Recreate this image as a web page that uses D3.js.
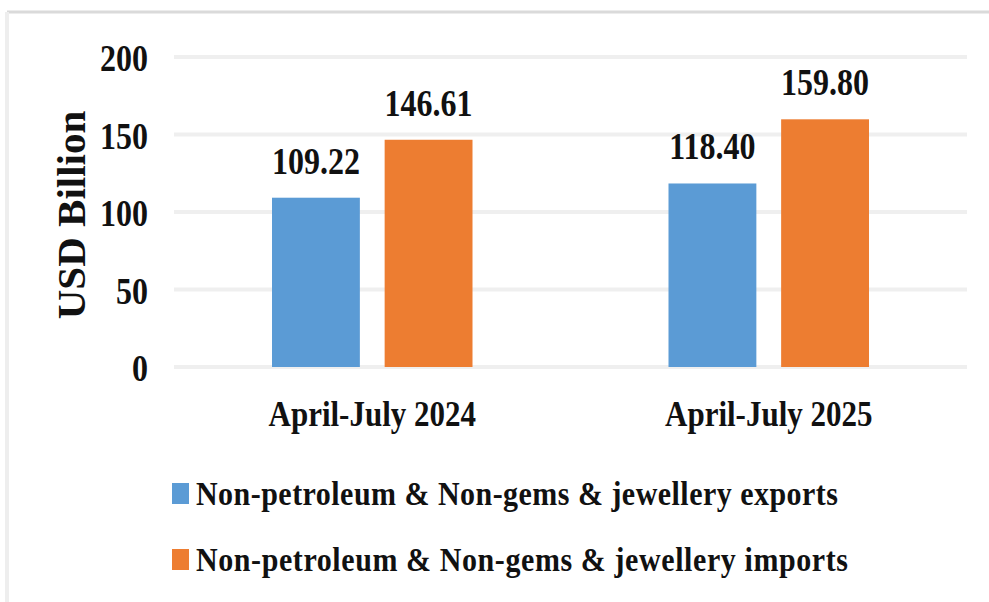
<!DOCTYPE html>
<html>
<head>
<meta charset="utf-8">
<script src="https://cdn.jsdelivr.net/npm/d3@7"></script>
<style>
  html, body { margin: 0; padding: 0; background: #fff; }
  svg { display: block; }
  text { font-family: "Liberation Serif", "Times New Roman", serif; font-weight: bold; fill: #111; }
</style>
</head>
<body>
<div id="chart"></div>
<script>
// ---------- data ----------
const periods = ["April-July 2024", "April-July 2025"];
const seriesNames = [
  "Non-petroleum & Non-gems & jewellery exports",
  "Non-petroleum & Non-gems & jewellery imports"
];
const exportsVals = [109.22, 118.40];
const importsVals = [146.61, 159.80];
const yTicks = [0, 50, 100, 150, 200];
const colors = ["#5B9BD5", "#ED7D31"];

const rows = periods.map((p, i) => ({ period: p, values: [exportsVals[i], importsVals[i]] }));

// ---------- layout ----------
const width = 989, height = 602;
const plot = { left: 174, right: 967, top: 57, bottom: 367 };
const stretch = 1.17; // source image text is a bit taller than wide

const svg = d3.select("#chart").append("svg")
  .attr("width", width)
  .attr("height", height);

// outer frame (only top/left edges visible in the crop)
svg.append("line")
  .attr("x1", 7).attr("x2", width).attr("y1", 12).attr("y2", 12)
  .attr("stroke", "#dadada").attr("stroke-width", 3);
svg.append("line")
  .attr("x1", 7).attr("x2", 7).attr("y1", 12).attr("y2", height)
  .attr("stroke", "#eeeeee").attr("stroke-width", 4);

const y = d3.scaleLinear().domain([0, 200]).range([plot.bottom, plot.top]);
const x0 = d3.scaleBand().domain(periods).range([plot.left, plot.right]).padding(0);
const groupPad = 98;
const x1 = d3.scaleBand().domain([0, 1])
  .range([groupPad, x0.bandwidth() - groupPad])
  .paddingInner(0.22).paddingOuter(0);

const at = (px, py) => `translate(${px},${py}) scale(1,${stretch})`;

// gridlines
svg.append("g").selectAll("line")
  .data(yTicks)
  .join("line")
  .attr("x1", plot.left).attr("x2", plot.right)
  .attr("y1", d => y(d)).attr("y2", d => y(d))
  .attr("stroke", "#efefef").attr("stroke-width", 4);

// y tick labels
svg.append("g").selectAll("text")
  .data(yTicks)
  .join("text")
  .attr("transform", d => at(148, y(d) + 14))
  .attr("text-anchor", "end")
  .attr("font-size", 32)
  .text(d => d);

// y axis title
svg.append("text")
  .attr("transform", "translate(85, 215) rotate(-90)")
  .attr("text-anchor", "middle")
  .attr("font-size", 41)
  .text("USD Billion");

// bars
const groups = svg.append("g").selectAll("g")
  .data(rows)
  .join("g")
  .attr("transform", d => `translate(${x0(d.period)},0)`);

groups.selectAll("rect")
  .data(d => d.values.map((v, i) => ({ v, i })))
  .join("rect")
  .attr("x", d => x1(d.i))
  .attr("width", x1.bandwidth())
  .attr("y", d => y(d.v))
  .attr("height", d => y(0) - y(d.v))
  .attr("fill", d => colors[d.i]);

groups.selectAll("text.val")
  .data(d => d.values.map((v, i) => ({ v, i })))
  .join("text")
  .attr("class", "val")
  .attr("transform", d => at(x1(d.i) + x1.bandwidth() / 2, y(d.v) - 24))
  .attr("text-anchor", "middle")
  .attr("font-size", 32)
  .text(d => d.v.toFixed(2));

// category labels
svg.append("g").selectAll("text")
  .data(periods)
  .join("text")
  .attr("transform", d => at(x0(d) + x0.bandwidth() / 2, 426))
  .attr("text-anchor", "middle")
  .attr("font-size", 31)
  .text(d => d);

// legend
const legend = svg.append("g").selectAll("g")
  .data(seriesNames)
  .join("g")
  .attr("transform", (d, i) => `translate(172, ${483 + i * 66})`);

legend.append("rect")
  .attr("width", 17).attr("height", 21)
  .attr("fill", (d, i) => colors[i]);

legend.append("text")
  .attr("transform", `translate(24, 22) scale(1,1.1)`)
  .attr("font-size", 30)
  .attr("textLength", (d, i) => i === 0 ? 642 : 652)
  .attr("lengthAdjust", "spacing")
  .text(d => d);
</script>
</body>
</html>
